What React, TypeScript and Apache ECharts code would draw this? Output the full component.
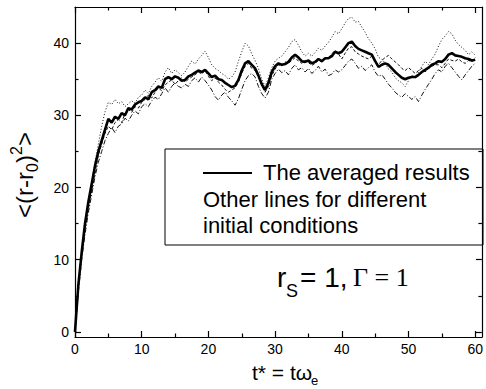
import React, { useEffect, useRef } from 'react';
import * as echarts from 'echarts';

const times = [
  0, 0.5, 1, 1.5, 2, 2.5, 3, 3.5, 4, 4.5, 5, 5.5, 6, 6.5, 7, 7.5, 8, 8.5, 9, 9.5,
  10, 10.5, 11, 11.5, 12, 12.5, 13, 13.5, 14, 14.5, 15, 15.5, 16, 16.5, 17, 17.5, 18, 18.5, 19, 19.5,
  20, 20.5, 21, 21.5, 22, 22.5, 23, 23.5, 24, 24.5, 25, 25.5, 26, 26.5, 27, 27.5, 28, 28.5, 29, 29.5,
  30, 30.5, 31, 31.5, 32, 32.5, 33, 33.5, 34, 34.5, 35, 35.5, 36, 36.5, 37, 37.5, 38, 38.5, 39, 39.5,
  40, 40.5, 41, 41.5, 42, 42.5, 43, 43.5, 44, 44.5, 45, 45.5, 46, 46.5, 47, 47.5, 48, 48.5, 49, 49.5,
  50, 50.5, 51, 51.5, 52, 52.5, 53, 53.5, 54, 54.5, 55, 55.5, 56, 56.5, 57, 57.5, 58, 58.5, 59, 59.5,
  60,
];

const averaged = [
  0, 6.5, 11, 15, 18, 20.5, 23, 25, 26.5, 28, 29.5, 29, 29.8, 29.5, 30.3, 30, 31, 30.8, 31.5, 31.8,
  32, 32.5, 32.2, 33.2, 33.5, 34, 33.8, 35, 35.3, 35, 35.4, 35.2, 34.8, 34.9, 35.4, 35.6, 35.9, 36.2, 36, 36.3,
  35.8, 35.3, 35.5, 35, 34.9, 34.5, 34.2, 33.9, 34.1, 34.9, 36.2, 37.2, 37.5, 37, 36.5, 35.5, 34.3, 33.5, 34.5, 36,
  36.8, 37.2, 37, 37.1, 37.4, 38, 38.4, 38, 37.5, 37.4, 37.6, 37.2, 37.4, 37.8, 37.5, 37.9, 37.9, 38.2, 38.8, 38.6,
  38.8, 39.4, 40, 40.2, 39.6, 39.2, 39, 38.8, 38.6, 38.4, 37.5, 36.7, 37, 37.2, 37, 36.5, 36, 35.6, 35.2, 35,
  35.2, 35.3, 35.3, 35.6, 36, 36.3, 36.6, 37, 37.2, 37.5, 37.4, 37.8, 38.4, 38.6, 38.3, 38.2, 38.1, 37.9, 37.8, 37.6,
  37.7,
];

const runA = [
  0, 6, 10.5, 14.5, 17.5, 20.5, 23.5, 26, 28.5, 30.5, 31.8, 31.5, 32.2, 31.6, 31.9, 31.2, 31.6, 32, 31.7, 32.5,
  32.8, 33.5, 33, 34, 34.6, 35.2, 34.7, 36, 36.6, 35.8, 36.3, 35.9, 35.5, 36, 36.8, 37.5, 37.1, 37.8, 38.3, 38.9,
  38, 37, 36.5, 36.2, 35.8, 35.5, 35, 35.3, 36, 37.5, 38.8, 40, 39.6, 38.5, 37.6, 36.5, 35, 34, 35.2, 36.6,
  37.5, 37.9, 38.2, 38.8, 39.4, 40.2, 40.5, 39.7, 38.8, 38.2, 38.6, 38.2, 38.7, 39.3, 39, 39.6, 40.1, 40.8, 41.6, 41.3,
  42, 42.8, 43.4, 43.6, 42.9, 43, 42.2, 41.5, 40.6, 40, 39.2, 38, 37.8, 37.2, 36.4, 36, 35.2, 34.8, 34.5, 34,
  34.8, 35.6, 35.2, 36, 36.8, 37.5, 37, 37.8, 38.5, 39.6, 40.5, 41, 41.6, 41.3, 40.4, 39.8, 39.4, 39, 38.4, 38.8,
  38.3,
];

const runB = [
  0, 5.5, 10, 13.5, 16.5, 19, 21.5, 23.5, 25, 26.5, 27.5, 28.3, 27.6, 28.5, 28.8, 29.6, 29.2, 30, 30.6, 30.2,
  31.2, 31.6, 31.2, 32, 32.5, 32.2, 33, 33.8, 33.2, 34, 34.5, 34, 33.8, 34.3, 34, 34.8, 35.2, 34.6, 35.3, 34.8,
  34.2, 33.5, 32.6, 32.1, 32.8, 33.2, 32.5, 32, 31.4, 32.3, 33.6, 34.8, 35.5, 35.8, 35.3, 34, 33, 32.4, 33.2, 35,
  35.8, 36.4, 35.9, 36.2, 35.6, 36.5, 37, 36.3, 36.6, 36, 36.5, 35.8, 36.2, 36.8, 36, 36.4, 35.5, 35.7, 36.3, 36,
  36.3, 36.9, 37.5, 37.8, 37.2, 36.5, 36.8, 36.2, 36.6, 37, 36, 35.4, 35.6, 35, 34.3, 33.8, 33.2, 32.8, 32.5, 33,
  32.6, 32.2, 32.6, 31.9, 32.8, 33.6, 34.3, 35, 35.8, 36.3, 36, 36.8, 37.2, 36.6, 36, 35.4, 34.9, 35.6, 36.2, 36.8,
  37.2,
];

const runC = [
  0, 6.2, 10.8, 14.2, 17, 19.5, 22, 24.5, 26, 27.5, 28.5, 28, 29, 29.4, 29, 30.3, 30.8, 30.4, 31.2, 31,
  31.8, 32.2, 32.8, 32.4, 33.2, 33.8, 33.4, 34.2, 34.6, 34.9, 34.3, 34.8, 35.2, 34.6, 35, 35.3, 35.6, 36, 35.7, 36.2,
  35.4, 34.8, 35.2, 34.6, 34.2, 33.6, 33.2, 33.5, 33.8, 34.6, 35.8, 36.8, 37.2, 36.5, 36.2, 35.4, 34.2, 33.2, 34, 35.5,
  36.4, 37, 36.8, 37.4, 37.2, 37.6, 38, 37.5, 37.2, 37.6, 37.3, 36.9, 37.2, 37.6, 37.4, 37.8, 38, 38.5, 39, 38.5,
  37.8, 38.6, 39.3, 39.5, 38.8, 38.5, 38.2, 38, 37.8, 38.2, 37.4, 37, 37.6, 38, 38.3, 37.8, 37.4, 37, 36.5, 36.2,
  36.6, 36.2, 35.8, 36.2, 36.5, 36, 36.5, 36.8, 37, 37, 36.6, 37.2, 37.8, 37.6, 37.5, 37.8, 37.4, 37.2, 37.6, 37.4,
  38,
];

const xMajorTicks = [0, 10, 20, 30, 40, 50, 60];
const xMinorTicks = [5, 15, 25, 35, 45, 55];
const yMajorTicks = [0, 10, 20, 30, 40];
const yMinorTicks = [5, 15, 25, 35];

const legendLines = ['The averaged results', 'Other lines for different', 'initial conditions'];

const SANS = 'Liberation Sans, Arial, Helvetica, sans-serif';
const SERIF = 'Liberation Serif, Times New Roman, serif';
const X_MIN = 0;
const X_MAX = 61;
const Y_MIN = -0.7;
const Y_MAX = 45;

function pairs(vals: number[]) {
  return times.map((t, i) => [t, vals[i]]);
}

function xAxisDef(position: string, ticks: number[], len: number, labels: boolean, line: boolean) {
  return {
    type: 'value',
    min: X_MIN,
    max: X_MAX,
    position,
    axisLine: { show: line, onZero: false, lineStyle: { color: '#000', width: 1.2 } },
    axisTick: { show: true, inside: true, length: len, customValues: ticks, lineStyle: { color: '#000', width: 1.2 } },
    axisLabel: { show: labels, customValues: ticks, color: '#000', fontSize: 14, fontFamily: SANS, margin: 5 },
    splitLine: { show: false },
  };
}

function yAxisDef(position: string, ticks: number[], len: number, labels: boolean, line: boolean) {
  return {
    type: 'value',
    min: Y_MIN,
    max: Y_MAX,
    position,
    axisLine: { show: line, onZero: false, lineStyle: { color: '#000', width: 1.2 } },
    axisTick: { show: true, inside: true, length: len, customValues: ticks, lineStyle: { color: '#000', width: 1.2 } },
    axisLabel: { show: labels, customValues: ticks, color: '#000', fontSize: 14, fontFamily: SANS, margin: 6 },
    splitLine: { show: false },
  };
}

function txt(text: string, x: number, baseline: number, fontSize: number, family = SANS) {
  return {
    type: 'text',
    x,
    y: baseline - 0.347 * fontSize,
    style: { text, fontSize, fontFamily: family, fill: '#000', align: 'left', verticalAlign: 'middle' },
  };
}

export default function App() {
  const ref = useRef<HTMLDivElement>(null);
  useEffect(() => {
    if (!ref.current) return;
    const chart = echarts.init(ref.current, undefined, { renderer: 'svg' });
    const option = {
      animation: false,
      backgroundColor: '#fff',
      grid: { left: 75, right: 3, top: 7, bottom: 52, containLabel: false },
      xAxis: [
        xAxisDef('bottom', xMajorTicks, 6, true, true),
        xAxisDef('top', xMajorTicks, 6, false, true),
        xAxisDef('bottom', xMinorTicks, 3.5, false, false),
        xAxisDef('top', xMinorTicks, 3.5, false, false),
      ],
      yAxis: [
        yAxisDef('left', yMajorTicks, 6, true, true),
        yAxisDef('right', yMajorTicks, 6, false, true),
        yAxisDef('left', yMinorTicks, 3.5, false, false),
        yAxisDef('right', yMinorTicks, 3.5, false, false),
      ],
      series: [
        {
          type: 'line', data: pairs(runA), showSymbol: false, symbol: 'none',
          lineStyle: { color: '#111', width: 1, type: [1, 2] }, z: 2,
        },
        {
          type: 'line', data: pairs(runB), showSymbol: false, symbol: 'none',
          lineStyle: { color: '#111', width: 1, type: [5, 2, 1, 2] }, z: 2,
        },
        {
          type: 'line', data: pairs(runC), showSymbol: false, symbol: 'none',
          lineStyle: { color: '#111', width: 1, type: [3, 2] }, z: 2,
        },
        {
          type: 'line', data: pairs(averaged), showSymbol: false, symbol: 'none',
          lineStyle: { color: '#000', width: 2.6 }, z: 3,
        },
      ],
      graphic: [
        {
          type: 'rect',
          shape: { x: 165, y: 149, width: 318, height: 96 },
          style: { fill: 'rgba(0,0,0,0)', stroke: '#000', lineWidth: 1 },
        },
        {
          type: 'line',
          shape: { x1: 203, y1: 173, x2: 252, y2: 173 },
          style: { stroke: '#000', lineWidth: 2 },
        },
        txt(legendLines[0], 263, 180, 22),
        txt(legendLines[1], 203, 207, 22),
        txt(legendLines[2], 203, 233, 22),
        // annotation r_S = 1, Γ = 1
        txt('r', 277, 287, 28),
        txt('S', 286, 297, 18),
        txt('= 1,', 300, 287, 28),
        txt('Γ = 1', 353, 287, 26, SERIF),
        // x axis title
        txt('t* = tω', 252, 380, 21),
        txt('e', 311, 385, 13),
        // y axis title (rotated)
        {
          type: 'group',
          x: 33,
          y: 218,
          rotation: Math.PI / 2,
          children: [
            txt('<(r-r', 0, 0, 24),
            txt('0', 46, 5, 16),
            txt(')', 55, 0, 24),
            txt('2', 63, -11, 16),
            txt('>', 72, 0, 24),
          ],
        },
      ],
    };
    chart.setOption(option as any);
    return () => chart.dispose();
  }, []);
  return (
    <div
      ref={ref}
      style={{ position: 'fixed', left: 0, top: 0, width: 486, height: 389, background: '#fff' }}
    />
  );
}
